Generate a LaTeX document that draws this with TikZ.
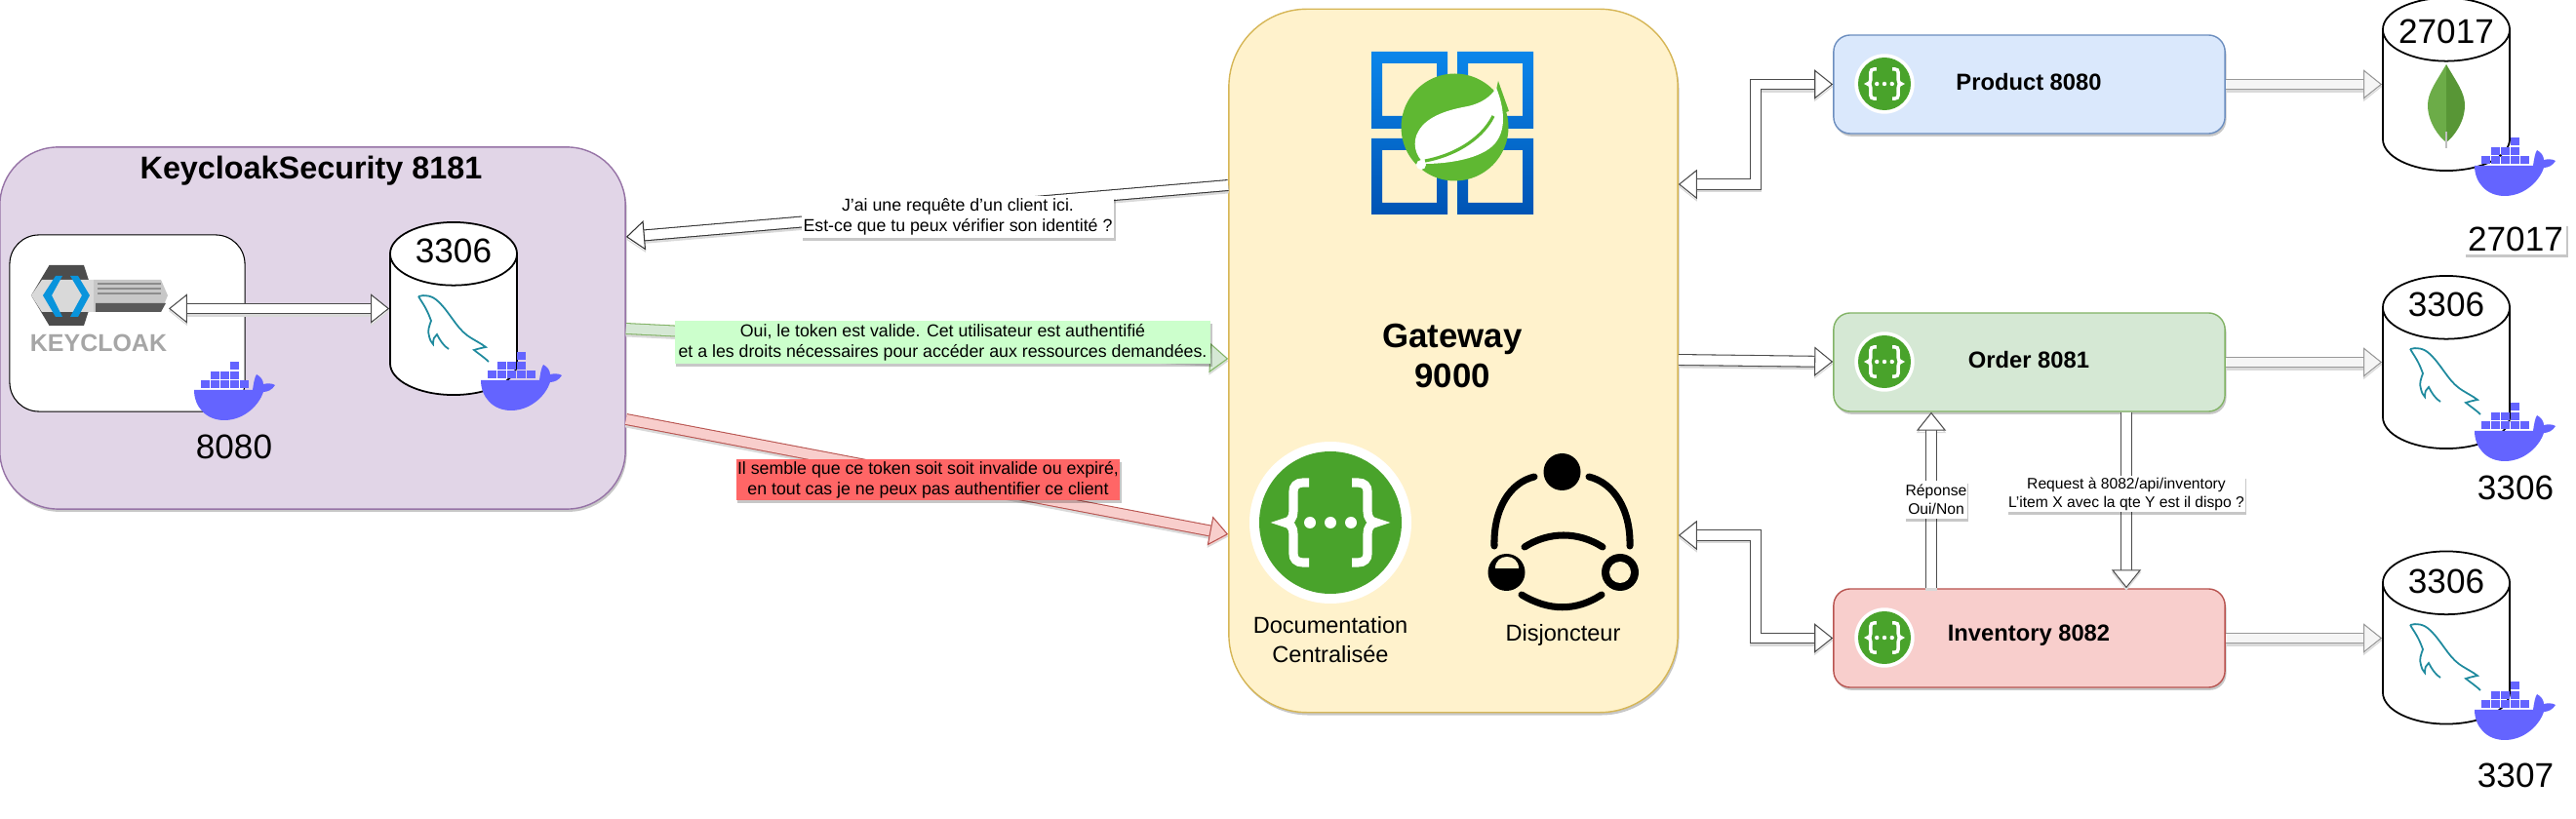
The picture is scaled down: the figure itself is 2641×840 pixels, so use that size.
\documentclass[tikz,border=0pt]{standalone}
\usepackage{fontspec}
\setmainfont{Liberation Sans}
\usetikzlibrary{calc, arrows.meta, shapes.geometric, shadows}
\definecolor{keycloakfill}{HTML}{E1D5E7}
\definecolor{keycloakline}{HTML}{9673A6}
\definecolor{gatewayfill}{HTML}{FFF2CC}
\definecolor{gatewayline}{HTML}{D6B656}
\definecolor{productfill}{HTML}{DAE8FC}
\definecolor{productline}{HTML}{6C8EBF}
\definecolor{orderfill}{HTML}{D5E8D4}
\definecolor{orderline}{HTML}{82B366}
\definecolor{inventoryfill}{HTML}{F8CECC}
\definecolor{inventoryline}{HTML}{B85450}
\definecolor{dockerblue}{HTML}{6464FF}
\definecolor{swaggergreen}{HTML}{49A32B}
\definecolor{springgreen}{HTML}{5FB832}
\definecolor{dolphinteal}{HTML}{1F8A9E}
\definecolor{windowstop}{HTML}{0A86EA}
\definecolor{windowsbottom}{HTML}{0054B4}
\definecolor{mongolight}{HTML}{6CAC48}
\definecolor{mongodark}{HTML}{589636}
\tikzset{
  softshadow/.style={drop shadow={shadow xshift=0.4pt, shadow yshift=-0.8pt, opacity=.22, fill=black}},
  arrowshadow/.style={preaction={draw=black!15, double=black!15, transform canvas={yshift=-0.7pt}}},
  roundbox/.style={draw, rectangle, line width=0.4pt, softshadow, align=center, inner sep=0pt},
  servicebox/.style={roundbox, minimum width=4.01cm, minimum height=1.01cm, rounded corners=0.17cm},
  database/.style={draw, cylinder, shape border rotate=90, aspect=1.15, anchor=shape center, fill=white, line width=0.5pt,
    minimum width=1.3cm, minimum height=1.77cm, inner sep=8pt},
  hollowto/.style={arrowshadow, double=#1, double distance=2.8pt, line width=0.3pt,
    -{Triangle[length=5.4pt, width=8.6pt, line width=0.3pt, fill=#1]}},
  hollowboth/.style={arrowshadow, double=#1, double distance=2.8pt, line width=0.3pt,
    {Triangle[length=5.4pt, width=8.6pt, line width=0.3pt, fill=#1]}-{Triangle[length=5.4pt, width=8.6pt, line width=0.3pt, fill=#1]}},
  port/.style={font=\fontsize{10}{12}\selectfont},
  servicetext/.style={font=\fontsize{6.75}{8}\selectfont\bfseries},
  msg/.style={align=center, inner sep=0pt, font=\fontsize{5.05}{6}\selectfont, softshadow},
  smallmsg/.style={align=center, inner sep=0pt, fill=white, font=\fontsize{4.45}{5.4}\selectfont, softshadow},
  icontext/.style={align=center, font=\fontsize{6.7}{8.3}\selectfont},
  dockerwhale/.pic={
    \fill[dockerblue] (0,29) -- (60,29) .. controls (61,22) and (62,16) .. (64,13)
      .. controls (68,15) and (71,19) .. (71,23) .. controls (75,22) and (80,22) .. (83,24)
      .. controls (80,29) and (75,31) .. (71,31) .. controls (66,46) and (50,60) .. (31,60)
      .. controls (12,60) and (0,46) .. (0,29) -- cycle;
    \foreach \bx/\by in {7/19,17/19,27/19,37/19,47/19,17/10,27/10,37/10,37/0} {
      \fill[dockerblue] (\bx,\by) rectangle ++(9,8);
    }
  },
  dolphin/.pic={
    \draw[dolphinteal, line width=0.5pt] (0,1) .. controls (6,-1) and (14,0) .. (20,6)
      .. controls (32,17) and (38,32) .. (50,41) .. controls (57,46) and (64,49) .. (69,53)
      .. controls (64,54) and (60,55) .. (57,56) .. controls (62,60) and (68,64) .. (72,68);
    \draw[dolphinteal, line width=0.5pt] (0,1) .. controls (4,8) and (8,12) .. (13,26)
      .. controls (11,32) and (9,36) .. (11,42) .. controls (12,46) and (13,48) .. (15,50)
      .. controls (15,45) and (16,42) .. (19,40) .. controls (22,46) and (26,52) .. (31,55);
  },
  swagger/.pic={
    \fill[white] (0,0) circle (83);
    \fill[swaggergreen] (0,0) circle (73);
    \draw[white, line width=#1] (-22,-41) -- (-28,-41) .. controls (-35,-41) and (-38,-37) .. (-38,-32)
      -- (-38,-12) .. controls (-38,-5) and (-41,-1) .. (-47,0) .. controls (-41,1) and (-38,5) .. (-38,12)
      -- (-38,32) .. controls (-38,37) and (-35,41) .. (-28,41) -- (-22,41);
    \draw[white, line width=#1] (22,-41) -- (28,-41) .. controls (35,-41) and (38,-37) .. (38,-32)
      -- (38,-12) .. controls (38,-5) and (41,-1) .. (47,0) .. controls (41,1) and (38,5) .. (38,12)
      -- (38,32) .. controls (38,37) and (35,41) .. (28,41) -- (22,41);
    \foreach \dx in {-21,0,21} {
      \fill[white] (\dx,0) circle (6);
    }
  }
}

\begin{document}
\begin{tikzpicture}[x=0.01cm, y=-0.01cm]
\useasboundingbox (0,0) rectangle (2641,840);

% Main boxes
\node[roundbox, fill=keycloakfill, draw=keycloakline, minimum width=6.41cm, minimum height=3.71cm, rounded corners=0.6cm] (keycloak) at (320.5,336.5) {};
\node[roundbox, fill=gatewayfill, draw=gatewayline, minimum width=4.6cm, minimum height=7.21cm, rounded corners=0.8cm] (gateway) at (1490,370) {};

% Services
\foreach \name/\y/\col in {product/86.5/product, order/371.5/order, inventory/654.5/inventory} {
    \node[servicebox, fill=\col fill, draw=\col line] (\name) at (2080.5,\y) {};
}
\node[servicetext] (producttext) at (2080,84) {Product 8080};
\node[servicetext] (ordertext) at (2080,369) {Order 8081};
\node[servicetext] (inventorytext) at (2080,652) {Inventory 8082};

% Keycloak side
\node[draw, rectangle, fill=white, line width=0.3pt, minimum width=2.41cm, minimum height=1.81cm, rounded corners=0.3cm] (keycloakapp) at (130.5,331.5) {};
\node[font=\fontsize{9.2}{11}\selectfont\bfseries] (keycloaktitle) at (319,175) {KeycloakSecurity 8181};
\node[database] (keycloakdb) at (465,316.5) {};
\node[port] (keycloakdbport) at (465,257) {3306};
\node[port] (keycloakport) at (240,458) {8080};

% Keycloak logo
\fill[black!70] (50.5,272) -- (86,272) -- (96,303) -- (86,334) -- (50.5,334) -- (32,303) -- cycle;
\fill[black!15] (43,287) -- (96,287) -- (96,320) -- (43,320) -- (32,303) -- cycle;
\fill[black!22] (96,287) -- (165,287) -- (172,303) -- (165,320) -- (96,320) -- cycle;
\fill[black!65] (98,311) -- (170,311) -- (165,320) -- (98,320) -- cycle;
\foreach \ly in {291,296,301} {
    \draw[black!45, line width=0.3pt] (100,\ly) -- (165,\ly);
}
\fill[cyan!80!blue] (57,283) -- (64,283) -- (53,303) -- (64,325) -- (57,325) -- (44,303) -- cycle;
\fill[cyan!80!blue] (72,283) -- (80,283) -- (92,303) -- (80,325) -- (72,325) -- (84,303) -- cycle;
\node[font=\fontsize{7.1}{8}\selectfont\bfseries, text=black!35] (keycloakword) at (101,352) {KEYCLOAK};
\pic at (429,303) {dolphin};

% Gateway logo
\shade[top color=windowstop, bottom color=windowsbottom, even odd rule]
    (1406,53) rectangle (1484,132) (1417,65) rectangle (1473,119)
    (1494,53) rectangle (1572,132) (1505,65) rectangle (1561,119)
    (1406,142) rectangle (1484,220) (1417,154) rectangle (1473,208)
    (1494,142) rectangle (1572,220) (1505,154) rectangle (1561,208);
\fill[springgreen] (1491.5,130.5) circle (55);
\fill[springgreen] (1536,83) -- (1547,114) -- (1528,120) -- cycle;
\fill[white] (1534,90) .. controls (1542,110) and (1546,135) .. (1530,150)
    .. controls (1513,165) and (1478,168) .. (1461,168) .. controls (1450,160) and (1448,145) .. (1454,135)
    .. controls (1463,118) and (1488,112) .. (1505,109) .. controls (1518,106) and (1528,100) .. (1534,90) -- cycle;
\draw[springgreen, line width=0.9pt] (1531,119) .. controls (1518,145) and (1488,160) .. (1461,165);
\fill[white] (1457,169) circle (5);
\node[align=center, font=\fontsize{9.9}{11.7}\selectfont\bfseries] (gatewaytext) at (1489,365) {Gateway\\9000};

% Documentation and Disjoncteur
\pic at (1364,536) {swagger=2.6pt};
\node[icontext] (doctext) at (1364,656) {Documentation\\Centralisée};
\fill (1601.5,484) circle (19);
\fill (1544.5,587) circle (19);
\fill (1661,587) circle (19);
\fill[gatewayfill] (1661,587) circle (11);
\fill[gatewayfill] (1532.5,583) .. controls (1532.5,567) and (1556.5,567) .. (1556.5,583) -- cycle;
\draw[line width=2pt, line cap=round] (1573,489) .. controls (1548,495) and (1531,522) .. (1532,560);
\draw[line width=2pt, line cap=round] (1629,489) .. controls (1654,495) and (1672,522) .. (1671,560);
\draw[line width=2pt, line cap=round] (1563,561) .. controls (1588,545) and (1618,545) .. (1643,561);
\draw[line width=2pt, line cap=round] (1560,610) .. controls (1588,627) and (1616,627) .. (1642,610);
\node[icontext] (disjtext) at (1602.5,651) {Disjoncteur};

% Small swagger icons
\foreach \y in {86,371,654} {
    \pic[scale=.37] at (1932,\y) {swagger=1pt};
}

% Databases
\node[database] (mongodb) at (2508,86.5) {};
\node[database] (orderdb) at (2508,371.5) {};
\node[database] (inventorydb) at (2508,654) {};
\node[port] (mongoport) at (2508,32) {27017};
\node[port] (orderdbport) at (2508,312) {3306};
\node[port] (inventorydbport) at (2508,596) {3306};
\pic at (2471,357) {dolphin};
\pic at (2471,640) {dolphin};

% Mongo leaf
\fill[mongolight] (2508,66) .. controls (2497,85) and (2489,95) .. (2489,108) .. controls (2489,125) and (2500,140) .. (2508,146) -- cycle;
\fill[mongodark] (2508,66) .. controls (2519,85) and (2527,95) .. (2527,108) .. controls (2527,125) and (2516,140) .. (2508,146) -- cycle;
\draw[black!25, line width=0.5pt] (2508,135) -- (2508,152);

% Connectors
\coordinate (gwtokeycloak) at (gateway.west |- 0,190);
\coordinate (keycloakvalid) at (keycloak.east |- 0,337);
\coordinate (gwvalid) at (gateway.west |- 0,368);
\coordinate (keycloakbad) at (keycloak.east |- 0,430);
\coordinate (gwbad) at (gateway.west |- 0,548);
\coordinate (keycloakreq) at (keycloak.east |- 0,243);
\coordinate (gwproduct) at (gateway.east |- 0,189);
\coordinate (gworder) at (gateway.east |- 0,369);
\coordinate (gwinventory) at (gateway.east |- 0,549);
\coordinate (orderin) at (order.west |- 0,371);
\coordinate (orderup) at (order.south -| 1980,0);
\coordinate (inventoryup) at (inventory.north -| 1980,0);
\coordinate (orderdown) at (order.south -| 2180,0);
\coordinate (inventorydown) at (inventory.north -| 2180,0);
\coordinate (logoend) at (173,316.5);

\draw[hollowboth=white, black!70] (logoend) -- (logoend -| keycloakdb.west);
\draw[hollowto=white, black!80] (gwtokeycloak) -- (keycloakreq);
\draw[hollowto=orderfill, orderline] (keycloakvalid) -- (gwvalid);
\draw[hollowto=inventoryfill, inventoryline] (keycloakbad) -- (gwbad);
\draw[hollowboth=white, black!70] (gwproduct) -- (1800,189) |- (product.west);
\draw[hollowto=white, black!70] (gworder) -- (orderin);
\draw[hollowboth=white, black!70] (gwinventory) -- (1800,549) |- (inventory.west);
\draw[hollowto=white, black!70] (inventoryup) -- (orderup);
\draw[hollowto=white, black!70] (orderdown) -- (inventorydown);
\foreach \from/\to in {product/mongodb, order/orderdb, inventory/inventorydb} {
    \draw[hollowto=black!4, black!40] (\from.east) -- (\from.east -| \to.west);
}

% Messages
\node[msg, fill=white, minimum width=3.2cm, minimum height=0.43cm] (reqmsg) at (982,222.5) {J'ai une requête d'un client ici.\\Est-ce que tu peux vérifier son identité ?};
\node[msg, fill=green!20, minimum width=5.49cm, minimum height=0.44cm] (validmsg) at (966.5,351) {Oui, le token est valide. Cet utilisateur est authentifié\\et a les droits nécessaires pour accéder aux ressources demandées.};
\node[msg, fill=red!60, minimum width=3.93cm, minimum height=0.42cm] (badmsg) at (951.5,492) {Il semble que ce token soit soit invalide ou expiré,\\en tout cas je ne peux pas authentifier ce client};
\node[smallmsg, minimum width=0.64cm, minimum height=0.39cm] (replymsg) at (1985,512.5) {Réponse\\Oui/Non};
\node[smallmsg, minimum width=2.44cm, minimum height=0.37cm] (requestmsg) at (2180,506.5) {Request à 8082/api/inventory\\L'item X avec la qte Y est il dispo ?};

% Ports under databases
\node[port, fill=white, inner sep=1pt, softshadow] (mongobottom) at (2579,245) {27017};
\node[port] (orderbottom) at (2579,500) {3306};
\node[port] (inventorybottom) at (2579,795) {3307};

% Docker whales
\foreach \wx/\wy in {199/371, 493/361, 2537/141, 2537/413, 2537/699} {
    \pic at (\wx,\wy) {dockerwhale};
}

\end{tikzpicture}
\end{document}
